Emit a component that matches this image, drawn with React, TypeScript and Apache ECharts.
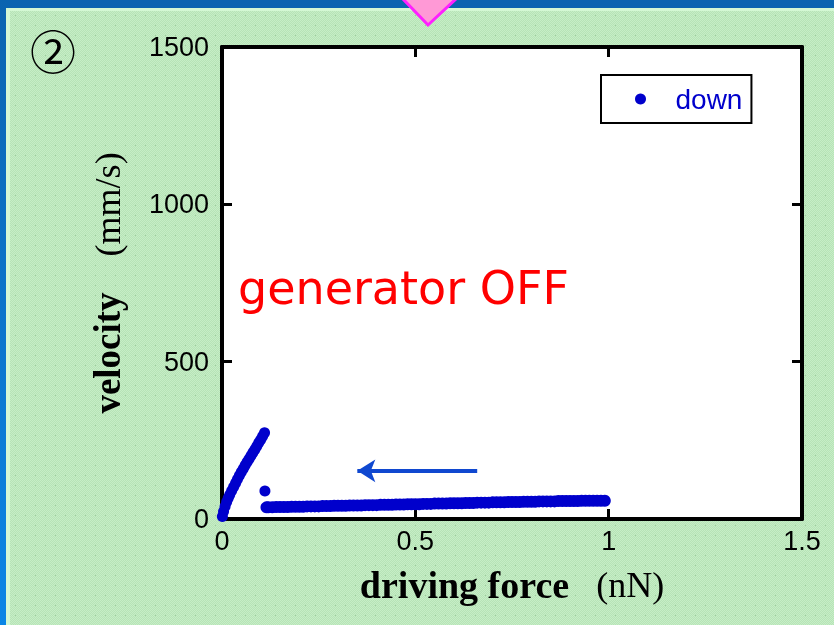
import React, { useEffect, useRef } from "react";
import * as echarts from "echarts";

// Axis ticks
const forceTicks = [0, 0.5, 1, 1.5];
const velocityTicks = [0, 500, 1000, 1500];

// Steep branch near zero force
const riseForce = [0.001, 0.004, 0.008, 0.012, 0.016, 0.02, 0.025, 0.03, 0.035, 0.04, 0.045, 0.05, 0.055, 0.06, 0.065, 0.07, 0.075, 0.08, 0.085, 0.09, 0.095, 0.1, 0.105, 0.11];
const riseVelocity = [8, 24, 40, 54, 66, 77, 90, 102, 114, 126, 138, 149, 160, 171, 181, 191, 201, 211, 221, 231, 242, 252, 263, 274];

// Isolated point after the branch
const jumpForce = [0.111];
const jumpVelocity = [89];

// Slowly rising plateau
const plateauForce = [
  0.115, 0.12, 0.13, 0.14, 0.15, 0.16, 0.17, 0.18, 0.19, 0.2,
  0.21, 0.22, 0.23, 0.24, 0.25, 0.26, 0.27, 0.28, 0.29, 0.3,
  0.31, 0.32, 0.33, 0.34, 0.35, 0.36, 0.37, 0.38, 0.39, 0.4,
  0.41, 0.42, 0.43, 0.44, 0.45, 0.46, 0.47, 0.48, 0.49, 0.5,
  0.51, 0.52, 0.53, 0.54, 0.55, 0.56, 0.57, 0.58, 0.59, 0.6,
  0.61, 0.62, 0.63, 0.64, 0.65, 0.66, 0.67, 0.68, 0.69, 0.7,
  0.71, 0.72, 0.73, 0.74, 0.75, 0.76, 0.77, 0.78, 0.79, 0.8,
  0.81, 0.82, 0.83, 0.84, 0.85, 0.86, 0.87, 0.88, 0.89, 0.9,
  0.91, 0.92, 0.93, 0.94, 0.95, 0.96, 0.97, 0.98, 0.99,
];
const plateauVelocity = [
  37, 37, 37, 38, 38, 38, 38, 39, 39, 39,
  39, 40, 40, 40, 40, 41, 41, 41, 42, 42,
  42, 42, 43, 43, 43, 43, 44, 44, 44, 44,
  45, 45, 45, 45, 46, 46, 46, 47, 47, 47,
  47, 48, 48, 48, 49, 49, 49, 49, 50, 50,
  50, 50, 51, 51, 51, 52, 52, 52, 52, 53,
  53, 53, 53, 54, 54, 54, 54, 55, 55, 55,
  55, 56, 56, 56, 56, 56, 57, 57, 57, 57,
  57, 57, 58, 58, 58, 58, 58, 58, 58,
];

// Direction arrow (force range, velocity level)
const arrowFrom = [0.66, 153];
const arrowTo = [0.35, 153];

const seriesName = "down";
const dotColor = "#0000cc";

const zip = (xs: number[], ys: number[]) => xs.map((x, i) => [x, ys[i]]);

// Fine green paper texture used as the page background
function makeTexture(): string {
  const c = document.createElement("canvas");
  c.width = 10;
  c.height = 10;
  const g = c.getContext("2d");
  if (!g) return "";
  for (let y = 0; y < 10; y++) {
    for (let x = 0; x < 10; x++) {
      g.fillStyle = (x + y) % 2 === 0 ? "#c6eec6" : "#b7e3b7";
      g.fillRect(x, y, 1, 1);
    }
  }
  g.fillStyle = "#9ccc9c";
  g.fillRect(5, 5, 1, 1);
  return c.toDataURL();
}

export default function App() {
  const ref = useRef<HTMLDivElement>(null);

  useEffect(() => {
    if (!ref.current) return;
    const chart = echarts.init(ref.current, undefined, { renderer: "svg" });

    const tickStyle = { show: true, inside: true, length: 10, lineStyle: { color: "#000", width: 3 } };
    const lineStyle = { show: true, onZero: false, lineStyle: { color: "#000", width: 4 } };
    const labelFont = { fontFamily: "Liberation Sans, Arial, sans-serif", fontSize: 27, color: "#000" };
    const serif = "Liberation Serif, Times New Roman, serif";
    const xMin = forceTicks[0];
    const xMax = forceTicks[forceTicks.length - 1];
    const xStep = forceTicks[1] - forceTicks[0];
    const yMin = velocityTicks[0];
    const yMax = velocityTicks[velocityTicks.length - 1];
    const yStep = velocityTicks[1] - velocityTicks[0];
    const plain = (v: number) => String(v);
    const texture = makeTexture();

    chart.setOption({
      animation: false,
      backgroundColor: texture ? { image: texture, repeat: "repeat" } : "#bde8bd",
      grid: {
        left: 222,
        top: 47,
        right: 32,
        bottom: 106,
        show: true,
        backgroundColor: "#ffffff",
        borderWidth: 0,
      },
      legend: {
        data: [seriesName],
        left: 601,
        top: 75,
        padding: [10, 9, 10, 34],
        icon: "circle",
        itemWidth: 60,
        itemHeight: 11,
        borderColor: "#000",
        borderWidth: 2,
        backgroundColor: "#ffffff",
        textStyle: { color: dotColor, fontSize: 28, fontFamily: "Liberation Sans, Arial, sans-serif" },
      },
      xAxis: [
        {
          type: "value",
          min: xMin,
          max: xMax,
          interval: xStep,
          position: "bottom",
          axisLine: lineStyle,
          axisTick: tickStyle,
          splitLine: { show: false },
          axisLabel: { ...labelFont, margin: 8, formatter: plain },
          name: "{b|driving force}{r|   (nN)}",
          nameLocation: "middle",
          nameGap: 47,
          nameTextStyle: {
            rich: {
              b: { fontFamily: serif, fontWeight: "bold", fontSize: 38, color: "#000" },
              r: { fontFamily: serif, fontSize: 36, color: "#000" },
            },
          },
        },
        {
          type: "value",
          min: xMin,
          max: xMax,
          interval: xStep,
          position: "top",
          axisLine: lineStyle,
          axisTick: tickStyle,
          splitLine: { show: false },
          axisLabel: { show: false },
        },
      ],
      yAxis: [
        {
          type: "value",
          min: yMin,
          max: yMax,
          interval: yStep,
          position: "left",
          axisLine: lineStyle,
          axisTick: tickStyle,
          splitLine: { show: false },
          axisLabel: { ...labelFont, margin: 13, formatter: plain },
          name: "{b|velocity}{r|    (mm/s)}",
          nameLocation: "middle",
          nameGap: 96,
          nameRotate: 90,
          nameTextStyle: {
            rich: {
              b: { fontFamily: serif, fontWeight: "bold", fontSize: 37, color: "#000" },
              r: { fontFamily: serif, fontSize: 36, color: "#000" },
            },
          },
        },
        {
          type: "value",
          min: yMin,
          max: yMax,
          interval: yStep,
          position: "right",
          axisLine: lineStyle,
          axisTick: tickStyle,
          splitLine: { show: false },
          axisLabel: { show: false },
        },
      ],
      series: [
        {
          name: seriesName,
          type: "scatter",
          symbol: "circle",
          symbolSize: 11,
          itemStyle: { color: dotColor, opacity: 1 },
          data: [...zip(riseForce, riseVelocity), ...zip(jumpForce, jumpVelocity)],
          silent: true,
        },
        {
          name: seriesName,
          type: "scatter",
          symbol: "circle",
          symbolSize: 12,
          itemStyle: { color: dotColor, opacity: 1 },
          data: zip(plateauForce, plateauVelocity),
          silent: true,
          markLine: {
            silent: true,
            symbol: ["none", "arrow"],
            symbolSize: [17, 18],
            label: { show: false },
            lineStyle: { color: "#1048d0", width: 4, type: "solid" },
            data: [[{ coord: arrowFrom }, { coord: arrowTo }]],
          },
        },
      ],
      graphic: [
        // frame: top band and left band
        { type: "rect", shape: { x: 0, y: 0, width: 834, height: 11 }, style: { fill: "#d4f8d4" }, z: 1 },
        { type: "rect", shape: { x: 0, y: 0, width: 10, height: 625 }, style: { fill: "#d4f8d4" }, z: 1 },
        { type: "rect", shape: { x: 0, y: 0, width: 834, height: 8 }, style: { fill: "#0a64b0" }, z: 2 },
        {
          type: "rect",
          shape: { x: 0, y: 0, width: 6, height: 625 },
          style: {
            fill: new echarts.graphic.LinearGradient(0, 0, 0, 1, [
              { offset: 0, color: "#0a64b0" },
              { offset: 1, color: "#0a86e6" },
            ]),
          },
          z: 2,
        },
        // pointer triangle
        {
          type: "polygon",
          shape: { points: [[402, -2], [457, -2], [428, 25]] },
          style: { fill: "#ff99d6", stroke: "#ff20ff", lineWidth: 3 },
          z: 3,
        },
        // panel number
        {
          type: "text",
          x: 53,
          y: 49,
          style: {
            text: "②",
            fill: "#000",
            fontSize: 46,
            fontFamily: "Noto Sans CJK JP",
            align: "center",
            verticalAlign: "middle",
          },
          z: 3,
        },
        {
          type: "text",
          x: 238,
          y: 288,
          style: {
            text: "generator OFF",
            fill: "#ff0000",
            fontSize: 46,
            fontFamily: "DejaVu Sans",
            align: "left",
            verticalAlign: "middle",
          },
          z: 10,
        },
      ],
    });

    return () => chart.dispose();
  }, []);

  return <div ref={ref} style={{ position: "fixed", left: 0, top: 0, width: 834, height: 625 }} />;
}
